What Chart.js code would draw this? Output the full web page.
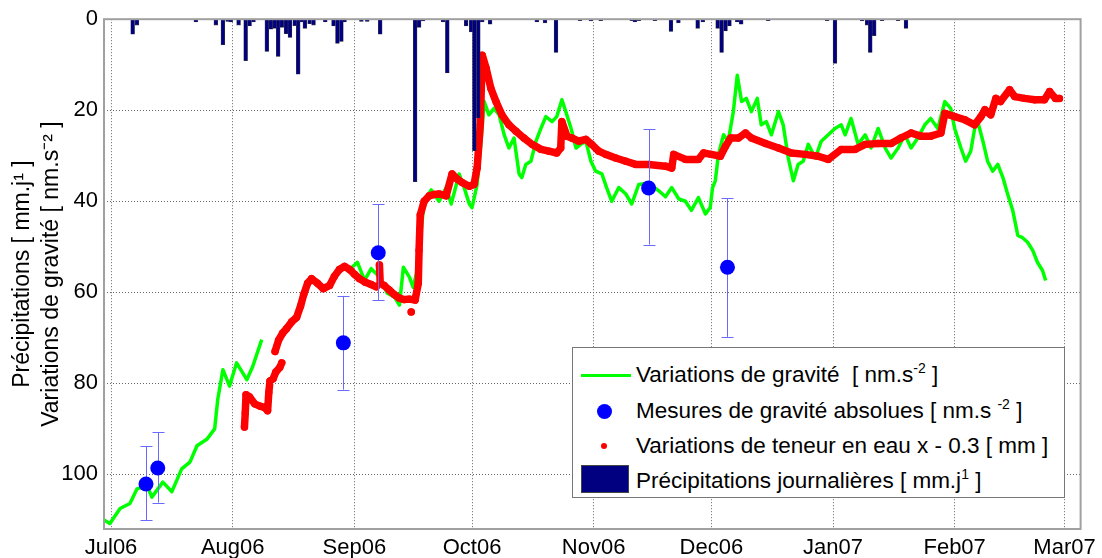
<!DOCTYPE html>
<html>
<head>
<meta charset="utf-8">
<script src="https://cdn.jsdelivr.net/npm/chart.js@4.4.1/dist/chart.umd.min.js"></script>
<style>
	html, body { margin: 0; padding: 0; background: #fff; }
	#wrap { position: relative; width: 1102px; height: 558px; font-family: "Liberation Sans", Arial, sans-serif; }
	#chart { position: absolute; left: 0; top: 0; }
	#legend { position: absolute; left: 572px; top: 347px; width: 493px; height: 151px; box-sizing: border-box; border: 1px solid #777; background: #fff; }
	.row { position: absolute; left: 63px; height: 28px; line-height: 28px; font-size: 22.5px; color: #000; white-space: nowrap; }
	.row sup { font-size: 14px; vertical-align: 9px; line-height: 0; }
	.sym { position: absolute; }
</style>
</head>
<body>
<div id="wrap">
	<canvas id="chart" width="1102" height="558"></canvas>
	<div id="legend">
		<div class="sym" style="left:8px;top:26px;width:50px;height:3px;background:#00ff00"></div>
		<div class="row" style="top:13px">Variations de gravité&nbsp;&nbsp;[ nm.s<sup>-2</sup>&nbsp;]</div>
		<div class="sym" style="left:24px;top:56px;width:15px;height:15px;border-radius:50%;background:#0000ff"></div>
		<div class="row" style="top:49px">Mesures de gravité absolues [ nm.s <sup>-2</sup>&nbsp;]</div>
		<div class="sym" style="left:28px;top:95px;width:6px;height:6px;border-radius:50%;background:#ff0000"></div>
		<div class="row" style="top:84px">Variations de teneur en eau x - 0.3 [ mm ]</div>
		<div class="sym" style="left:8px;top:117px;width:48px;height:28px;box-sizing:border-box;border:1px solid #444;background:#000080"></div>
		<div class="row" style="top:119px">Précipitations journalières [ mm.j<sup>1</sup>&nbsp;]</div>
	</div>
</div>
<script>
// x values are days since 1 July 2006

const monthDays = [0, 31, 62, 92, 123, 153, 184, 215, 243];
const monthLabels = ["Jul06", "Aug06", "Sep06", "Oct06", "Nov06", "Dec06", "Jan07", "Feb07", "Mar07"];
const yTicks = [0, 20, 40, 60, 80, 100];

// relative gravity (green), null = no data
const gravDays = [
	-1.8, -0.3, 2.3, 4.8, 6.6, 9.2, 10.4, 13.2, 15.5, 18.0, 20.1, 21.9, 24.4, 26.4, 27.2, 28.5, 30.2, 32.0, 34.6, 36.1, 38.4,
	50,
	60.8, 62.8, 64.6, 66.3, 68.4, 70.4, 72.2, 73.5, 74.5, 76.0, 77.0, 78.0, 79.8, 81.6,
	83.6, 85.4, 86.7, 88.7, 90.0, 91.3, 92.0, 93.3, 94.3, 95.1, 96.3, 97.6, 98.9, 100.2, 101.4, 102.7, 104.0, 104.7, 105.7,
	107.0, 108.3, 109.6, 110.8, 112.4, 113.6, 114.9, 115.9, 117.2, 118.5, 119.7, 121.0, 122.3, 123.5, 125.1, 126.3, 127.6,
	129.4, 131.2, 132.7, 134.5, 137.0, 139.6, 141.3, 142.9, 144.7, 146.4, 147.9, 149.7, 151.5, 152.7, 153.3, 154.0, 154.8,
	156.1, 157.3, 158.6, 159.6, 160.7, 161.9, 163.2, 164.7, 165.7, 167.0, 168.3, 170.1, 171.3, 172.6, 173.9, 175.1, 176.4,
	177.7, 179.5, 181.0, 182.8, 184.5, 186.1, 187.1, 188.6, 190.4, 192.2, 193.7, 195.5, 197.3, 198.8, 200.6, 202.3, 203.9,
	205.6, 207.4, 208.9, 210.7, 212.5, 214.0, 215.0, 216.6, 217.8, 219.1, 220.1, 220.9, 222.2, 223.4, 224.7, 226.0, 227.3,
	228.5, 229.8, 231.1, 232.3, 233.6, 234.9, 236.1, 237.4, 238.2
];
const gravValues = [
	110, 110.8, 107.5, 106.4, 103.2, 102.5, 105, 101.7, 103.8, 98.8, 97.3, 93.7, 92.3, 90, 83.5, 77, 80.6, 75.5, 79.2, 76.3, 70.4,
	null,
	55, 53.4, 57.4, 54.8, 56.6, 60.2, 61, 62.8, 54.5, 56.6, 58.9, 55.2, 40, 37.5,
	40, 37, 40.6, 34, 37, 40.6, 41.4, 36.3, 26.8, 18.1, 21, 19.6, 21, 25.4, 28.3, 26.1, 34, 34.8, 31.9,
	31.2, 26.8, 23.9, 21.4, 22.5, 21.4, 17.7, 20.3, 23.9, 28.3, 27.5, 26.8, 31.2, 33.4, 34, 37, 40,
	37, 38.4, 40.6, 36.3, 36, 37.7, 39, 37, 39.5, 40, 42, 39.2, 42.8, 41.4, 37, 35.5, 29.7,
	25.4, 26.8, 20.3, 12.3, 18.1, 17.4, 20.3, 17.4, 23.2, 22.5, 25.4, 20.3, 23.2, 30.5, 35.5, 31.9, 31.2,
	27.5, 30.5, 26.8, 25.4, 24, 23.2, 25.4, 21.8, 27.5, 25.4, 28.3, 24, 28.3, 30.5, 28.3, 25.4, 28.3,
	26.1, 23.2, 21.8, 24, 18.1, 19.6, 24, 28.3, 31.2, 29, 24, 22.5, 26.8, 31.2, 33.4, 31.9, 34.8,
	38.4, 42, 47.5, 48, 49, 50.8, 53.4, 55.2, 57.4
];

// water content x -0.3 (red), null = break
const waterDays = [
	34.0, 34.2, 34.4, 35.3, 36.6, 37.9, 39.1, 39.9, 40.2, 40.5, 41.3, 42.0, 43.0, 43.5,
	43.6,
	41.8, 42.7, 43.7, 44.7, 46.0, 47.3, 48.3, 49.1, 50.1, 51.1, 52.6, 54.1, 55.7, 56.9, 58.2, 59.5, 60.8, 62.0, 63.3, 64.8, 66.3, 67.6,
	67.8,
	76.5,
	76.6,
	68.4, 68.6, 69.6, 70.9, 72.2, 73.5, 74.7, 76.0, 77.5, 78.3, 78.5, 78.8, 79.8, 81.1, 82.4, 83.6, 85.4, 86.9, 88.2, 89.5,
	91.3, 92.5, 93.3, 94.1, 94.6, 95.6, 96.8, 98.1, 99.6, 101.4, 103.2, 105.2, 107.3, 109.6, 111.6, 113.6, 114.6, 114.9,
	116.2, 117.4, 119.2, 121.0, 122.5, 124.3, 126.1, 128.6, 131.2, 133.7, 137.0, 141.3, 142.9, 143.4, 146.4, 149.7, 151.0,
	153.0, 155.3, 156.6, 157.9, 159.9, 161.7, 163.2, 166.8, 170.1, 173.4, 176.9, 180.2, 182.8, 186.1, 189.6, 192.2, 195.5,
	198.8, 201.3, 203.9, 206.4, 208.9, 211.5, 212.5, 215.0, 217.6, 220.1, 221.7, 222.7, 224.2, 225.5, 226.7, 229.0, 230.3,
	232.8, 235.4, 237.9, 239.2, 240.7, 241.7
];
const waterValues = [
	89.6, 86.5, 82.5, 83, 84.5, 85, 85.3, 86, 82, 79.5, 79, 77.5, 76.5, 75.5,
	null,
	73, 70.5, 69, 68, 66.5, 65.5, 63, 60.5, 58, 57, 58, 59.2, 58.5, 56.5, 55, 54.3, 55, 56, 57, 57.8, 58.3, 58.8,
	null,
	64.3,
	null,
	54, 58, 58.5, 59.5, 60.5, 61.3, 61.6, 61.5, 61.7, 58, 50.8, 43, 40, 38.8, 38.5, 38.4, 38.8, 34, 35.1, 35.9,
	36.7, 36.3, 32.7, 23.2, 7.9, 10.8, 15.2, 18.1, 21, 23.2, 24.6, 26.1, 27.5, 28.6, 29, 29.4, 28.3, 22.5,
	25.7, 26.1, 26.8, 26.4, 27.5, 29, 29.7, 30.5, 31.2, 31.9, 31.9, 32.3, 32.7, 29.7, 30.8, 30.8, 29.4,
	29.7, 30.1, 27.9, 26.1, 26.1, 25, 26.1, 27.3, 28.3, 29.4, 29.7, 30.1, 30.8, 28.6, 28.6, 27.5, 27.3,
	27.3, 26.1, 25, 25.7, 25.7, 25, 20.7, 21.4, 22.1, 23.2, 21.4, 19.9, 21, 17.4, 18.1, 15.5, 17,
	17.4, 17.7, 17.7, 15.9, 17.4, 17.4
];

// absolute gravity measurements (blue) with error range
const absDays = [8.9, 11.9, 59.2, 68.1, 137.0, 157.1];
const absValues = [102.1, 98.6, 71.1, 51.3, 37.1, 54.5];
const absLow = [93.8, 90.7, 60.8, 40.6, 24.2, 39.3];
const absHigh = [110.1, 106.2, 81.4, 61.7, 49.5, 69.8];

// daily rainfall (navy bars, mm)
const rainDays = [
	5.5, 6.6, 21.6, 26.7, 28.5, 29.7, 30.5, 32.5, 34.3, 35.3, 36.3, 39.7, 40.7, 41.7, 42.6, 43.5, 44.6, 45.6, 46.8, 47.7,
	48.5, 49.4, 50.6, 51.6, 54.6, 56.7, 57.7, 58.7, 59.5, 63.8, 65.3, 68.6, 77.5, 78.5, 79.5, 84.6, 85.7, 90.5, 91.8, 92.6,
	93.6, 94.6, 96.6, 108.5, 110.6, 113.4, 119.5, 122.3, 124.8, 132.7, 133.5, 134.5, 138.6, 142.7, 144.6, 149.5, 150.8,
	154.6, 155.6, 156.6, 157.6, 159.6, 160.6, 167.5, 182.5, 184.5, 191.4, 192.7, 193.5, 194.5, 196.5, 200.6, 202.6
];
const rainValues = [
	3.3, 1.3, 0.6, 1.3, 5.6, 0.5, 0.6, 1.3, 9.1, 1.5, 0.6, 7.1, 2.2, 2.0, 8.2, 1.8, 3.2, 4.0, 1.4, 12.1,
	0.6, 2.0, 1.0, 1.3, 0.6, 1.5, 5.3, 4.9, 0.6, 0.5, 0.5, 3.3, 35.7, 1.8, 0.4, 0.6, 11.8, 1.5, 2.8, 28.9,
	21.7, 0.6, 1.1, 0.6, 0.8, 7.3, 0.3, 0.4, 0.3, 0.3, 0.6, 0.3, 0.3, 2.7, 0.8, 2.0, 0.6,
	2.0, 7.3, 2.6, 1.5, 0.6, 1.1, 0.3, 0.3, 9.7, 0.4, 1.3, 7.3, 3.6, 0.3, 0.3, 2.0
];

const FONT = "'Liberation Sans', Arial, sans-serif";
const pairs = (xs, ys) => xs.map((x, i) => ({ x: x, y: ys[i] }));

// error bars under the blue points
const errorBars = {
	id: "errorBars",
	beforeDatasetDraw(chart, args) {
		if (args.index !== 1) return;
		const { ctx, scales } = chart;
		ctx.save();
		ctx.strokeStyle = "#6a6aff";
		ctx.lineWidth = 1;
		absDays.forEach((d, i) => {
			const px = Math.round(scales.x.getPixelForValue(d)) + 0.5;
			const top = scales.y.getPixelForValue(absLow[i]);
			const bot = scales.y.getPixelForValue(absHigh[i]);
			ctx.beginPath();
			ctx.moveTo(px, top);
			ctx.lineTo(px, bot);
			ctx.moveTo(px - 6, Math.round(top) + 0.5);
			ctx.lineTo(px + 6, Math.round(top) + 0.5);
			ctx.moveTo(px - 6, Math.round(bot) + 0.5);
			ctx.lineTo(px + 6, Math.round(bot) + 0.5);
			ctx.stroke();
		});
		ctx.restore();
	},
};

// box around the axes, like the original
const axesBox = {
	id: "axesBox",
	afterDatasetsDraw(chart) {
		const { ctx, chartArea: a } = chart;
		ctx.save();
		ctx.strokeStyle = "#a0a0a0";
		ctx.lineWidth = 2;
		ctx.strokeRect(a.left, a.top, a.right - a.left, a.bottom - a.top);
		ctx.restore();
	},
};

new Chart(document.getElementById("chart"), {
	type: "line",
	data: {
		datasets: [
			{
				type: "bar",
				label: "Précipitations journalières",
				data: pairs(rainDays, rainValues),
				backgroundColor: "#000080",
				borderColor: "#3a3a3a",
				borderWidth: 0.6,
				barThickness: 3.8,
				order: 0,
			},
			{
				label: "Mesures de gravité absolues",
				data: pairs(absDays, absValues),
				showLine: false,
				pointRadius: 7.5,
				pointBackgroundColor: "#0000ff",
				pointBorderWidth: 0,
				order: 1,
			},
			{
				label: "Variations de teneur en eau",
				data: pairs(waterDays, waterValues),
				borderColor: "#ff0000",
				borderWidth: 7.5,
				borderCapStyle: "round",
				borderJoinStyle: "round",
				pointRadius: 3.7,
				pointBackgroundColor: "#ff0000",
				pointBorderWidth: 0,
				spanGaps: false,
				order: 2,
			},
			{
				label: "Variations de gravité",
				data: pairs(gravDays, gravValues),
				borderColor: "#00ff00",
				borderWidth: 3.5,
				borderJoinStyle: "round",
				pointRadius: 0,
				spanGaps: false,
				order: 3,
			},
		],
	},
	options: {
		responsive: false,
		animation: false,
		layout: { padding: { left: 0, top: 17, right: 19, bottom: 0 } },
		plugins: {
			legend: { display: false },
			tooltip: { enabled: false },
		},
		scales: {
			x: {
				type: "linear",
				offset: false,
				min: -1.8,
				max: 247.1,
				afterBuildTicks: (scale) => {
					scale.ticks = monthDays.map((v) => ({ value: v }));
				},
				afterFit: (scale) => {
					scale.height = 29;
				},
				ticks: {
					autoSkip: false,
					maxRotation: 0,
					padding: 6,
					color: "#000",
					font: { family: FONT, size: 22 },
					callback: (v) => monthLabels[monthDays.indexOf(v)],
				},
				grid: { offset: false, color: "#666", lineWidth: 1, drawTicks: false, borderDash: [1, 2] },
				border: { display: false, dash: [1, 2] },
			},
			y: {
				type: "linear",
				reverse: true,
				min: 0,
				max: 112,
				afterBuildTicks: (scale) => {
					scale.ticks = yTicks.map((v) => ({ value: v }));
				},
				afterFit: (scale) => {
					scale.width = 104;
				},
				ticks: {
					padding: 6,
					color: "#000",
					font: { family: FONT, size: 22 },
				},
				grid: { color: "#666", lineWidth: 1, drawTicks: false, borderDash: [1, 2] },
				border: { display: false, dash: [1, 2] },
				title: {
					display: true,
					text: ["Précipitations [ mm.j¹ ]", "Variations de gravité [ nm.s⁻² ]"],
					color: "#000",
					font: { family: FONT, size: 23, lineHeight: 1.25 },
					padding: { top: 8.5, bottom: 0 },
				},
			},
		},
	},
	plugins: [errorBars, axesBox],
});
</script>
</body>
</html>
